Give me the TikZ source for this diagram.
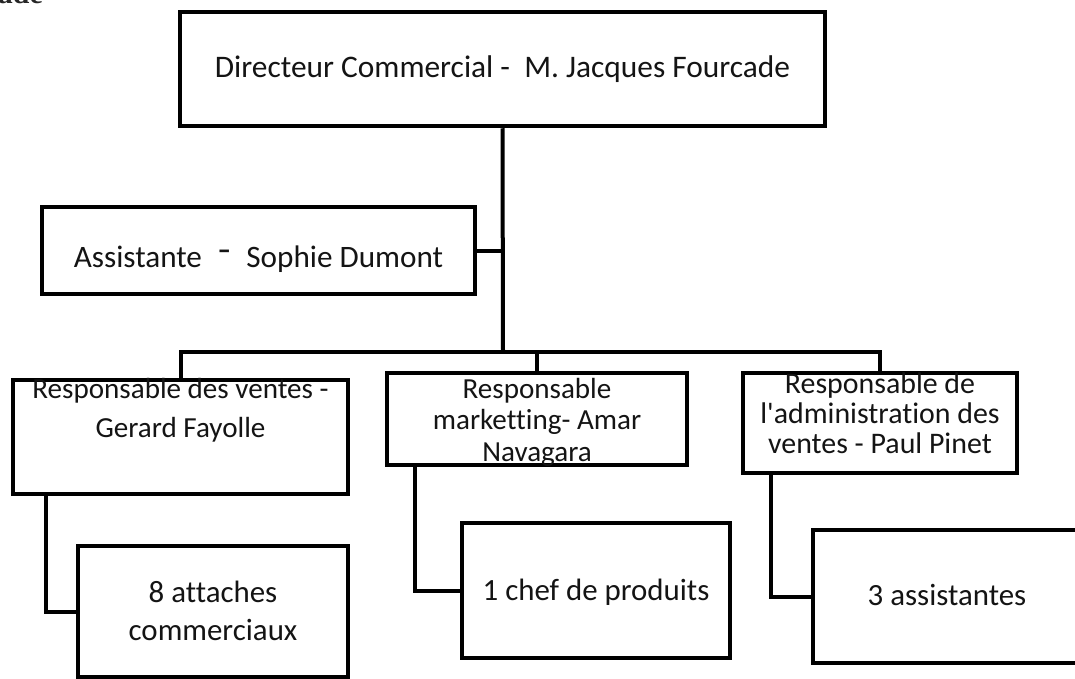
\documentclass[tikz,border=0pt]{standalone}
\usepackage{fontspec}
\setmainfont{Carlito}[Ligatures={TeX,NoCommon}]
\newfontfamily\serifade{Liberation Serif}
\begin{document}
\begin{tikzpicture}[x=1bp,y=-1bp,
  box/.style={draw=black, line width=4.5bp, inner sep=0pt, align=center, text=black!92},
  link/.style={draw=black, line width=4bp, line join=miter}]
\useasboundingbox (0,0) rectangle (1075,679);

\node[font=\serifade\bfseries\fontsize{30}{36}\selectfont, anchor=base east, inner sep=0pt, text=black!85] (frag) at (43,4) {ade};

\node[box, minimum width=645bp, minimum height=114bp, text height=18bp, text depth=0bp,
  font=\fontsize{31.5}{38}\selectfont] (dir) at (502.5,69)
  {Directeur Commercial -\ \ M. Jacques Fourcade};

\node[box, minimum width=433bp, minimum height=87bp, text height=33bp, text depth=0bp,
  font=\fontsize{31.3}{38}\selectfont] (asst) at (258.5,250.5)
  {Assistante\hspace{16bp}\raisebox{6bp}{\scalebox{1.3}[1.15]{-}}\hspace{16bp}Sophie Dumont};

\node[box, minimum width=335bp, minimum height=114bp, text height=0bp, text depth=0bp,
  font=\fontsize{29.2}{39}\selectfont] (ventes) at (180.5,437)
  {Responsable des ventes -\\Gerard Fayolle};

\node[box, minimum width=300bp, minimum height=92bp, text height=84bp, text depth=0bp,
  font=\fontsize{29.2}{31.5}\selectfont] (mkt) at (537,419)
  {Responsable\\marketting- Amar\\Navagara};

\node[box, minimum width=274bp, minimum height=100bp, text height=60bp, text depth=0bp,
  font=\fontsize{30}{30}\selectfont] (admin) at (880,423)
  {Responsable de\\l\textquotesingle administration des\\ventes - Paul Pinet};

\node[box, minimum width=270bp, minimum height=131bp, text height=57bp, text depth=0bp,
  font=\fontsize{31}{38}\selectfont] (attaches) at (213,611.5)
  {8 attaches\\commerciaux};

\node[box, minimum width=268bp, minimum height=135bp, text height=19bp, text depth=0bp,
  font=\fontsize{31}{38}\selectfont] (chef) at (596,590.5)
  {1 chef de produits};

\node[box, minimum width=268bp, minimum height=133bp, text height=17bp, text depth=0bp,
  font=\fontsize{31}{38}\selectfont] (assist3) at (947,596.5)
  {3 assistantes};

\coordinate (bus) at (503,352);
\draw[link] (dir.south) -- (bus);
\draw[link] (asst.east) -- (asst.east -| bus);
\draw[link] (ventes.north) -- (ventes.north |- bus) -- (admin.north |- bus) -- (admin.north);
\draw[link] (mkt.north |- bus) -- (mkt.north);
\draw[link] ([xshift=35bp]ventes.south west) |- (attaches.west);
\draw[link] ([xshift=30bp]mkt.south west) |- (chef.west);
\draw[link] ([xshift=30bp]admin.south west) |- (assist3.west);
\end{tikzpicture}
\end{document}
